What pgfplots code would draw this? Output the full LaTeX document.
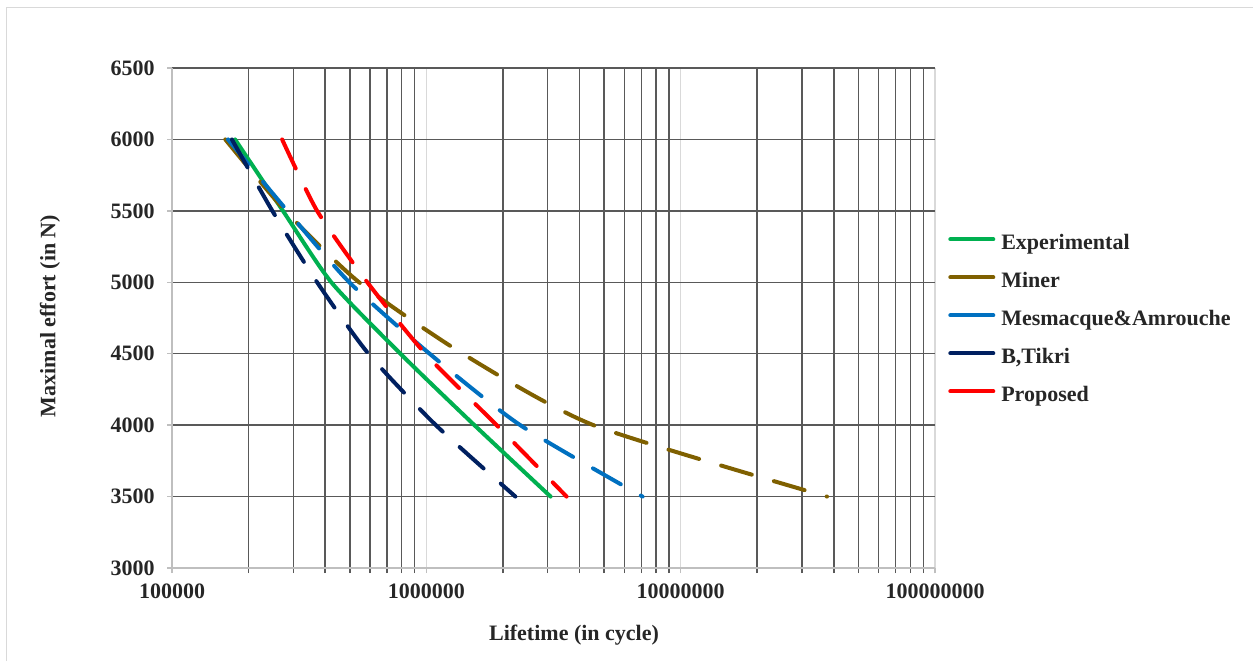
\documentclass[border=0pt]{standalone}
\usepackage{pgfplots}
\pgfplotsset{compat=1.18}
\usepackage{fontspec}
\setmainfont{Liberation Serif}
\definecolor{cExp}{HTML}{00B050}
\definecolor{cMin}{HTML}{7F6000}
\definecolor{cMes}{HTML}{0070C0}
\definecolor{cTik}{HTML}{002060}
\definecolor{cPro}{HTML}{FF0000}
\definecolor{gridDark}{HTML}{595959}
\definecolor{gridLight}{HTML}{D9D9D9}
\definecolor{axisGray}{HTML}{BFBFBF}
\definecolor{txt}{HTML}{262626}
\begin{document}
\begin{tikzpicture}[font=\fontsize{11}{13}\selectfont\bfseries]
\useasboundingbox (0,0) rectangle (626.5pt,330.5pt);
\draw[gridLight, line width=0.75pt] (3.25pt,0pt) -- (3.25pt,326.75pt) -- (626.5pt,326.75pt);
\begin{axis}[
  at={(86pt,46.5pt)}, anchor=south west,
  scale only axis, width=381.5pt, height=250pt,
  xmode=log, xmin=1e5, xmax=1e8, ymin=3000, ymax=6500,
  xtick={1e5,1e6,1e7,1e8}, xticklabels={100000,1000000,10000000,100000000},
  minor xtick={2e5,3e5,4e5,5e5,6e5,7e5,8e5,9e5,2e6,3e6,4e6,5e6,6e6,7e6,8e6,9e6,2e7,3e7,4e7,5e7,6e7,7e7,8e7,9e7,1e8},
  ytick={3000,3500,4000,4500,5000,5500,6000,6500},
  yticklabels={3000,3500,4000,4500,5000,5500,6000,6500},
  axis lines*=left, axis line style={axisGray, line width=0.75pt},
  xmajorgrids, xminorgrids, ymajorgrids,
  major x grid style={gridLight, line width=0.75pt},
  minor x grid style={gridDark, line width=0.75pt},
  major y grid style={gridDark, line width=0.75pt},
  tick align=outside, major tick length=2.5pt, minor tick length=2.5pt,
  major tick style={axisGray, line width=0.75pt},
  minor tick style={gridDark, line width=0.75pt},
  xticklabel style={anchor=north, inner sep=0pt, yshift=-5pt, text=txt},
  yticklabel style={anchor=east, inner sep=0pt, xshift=-6pt, text=txt},
  legend style={at={(1.009,0.676)}, anchor=north west, draw=none, fill=none,
    row sep=9pt, nodes={inner sep=0pt, text height=7.5pt, text depth=2.5pt, text=txt}},
  legend cell align=left,
  legend image code/.code={\draw[#1, solid, line width=2pt, line cap=round] (1pt,2.5pt) -- (22.5pt,2.5pt);},
  every axis plot/.append style={line width=2pt, line cap=round, line join=round},
]
\addplot[cExp, solid, smooth, tension=0.4] coordinates {
(177000,6000) (273000,5500) (423000,5000) (791000,4500) (1545000,4000) (3080000,3500)};
\addlegendentry{\hspace{3pt}Experimental}
\addplot[cMin, smooth, tension=0.4, dash pattern=on 16pt off 11.5pt] coordinates {
(162000,6000) (279000,5500) (544000,5000) (1390000,4500) (4540000,4000) (37600000,3500)};
\addlegendentry{\hspace{3pt}Miner}
\addplot[cMes, smooth, tension=0.4, dash pattern=on 16pt off 11.5pt] coordinates {
(166000,6000) (284000,5500) (498000,5000) (1030000,4500) (2340000,4000) (7080000,3500)};
\addlegendentry{\hspace{3pt}Mesmacque\&Amrouche}
\addplot[cTik, smooth, tension=0.4, dash pattern=on 16pt off 11.5pt] coordinates {
(172000,6000) (248000,5500) (372000,5000) (592000,4500) (1090000,4000) (2240000,3500)};
\addlegendentry{\hspace{3pt}B,Tikri}
\addplot[cPro, smooth, tension=0.4, dash pattern=on 16pt off 11.5pt] coordinates {
(271000,6000) (372000,5500) (586000,5000) (991000,4500) (1890000,4000) (3560000,3500)};
\addlegendentry{\hspace{3pt}Proposed}
\end{axis}
\node[rotate=90, text=txt] at (25pt,172.5pt) {Maximal effort (in N)};
\node[text=txt] at (287pt,13pt) {Lifetime (in cycle)};
\end{tikzpicture}
\end{document}
